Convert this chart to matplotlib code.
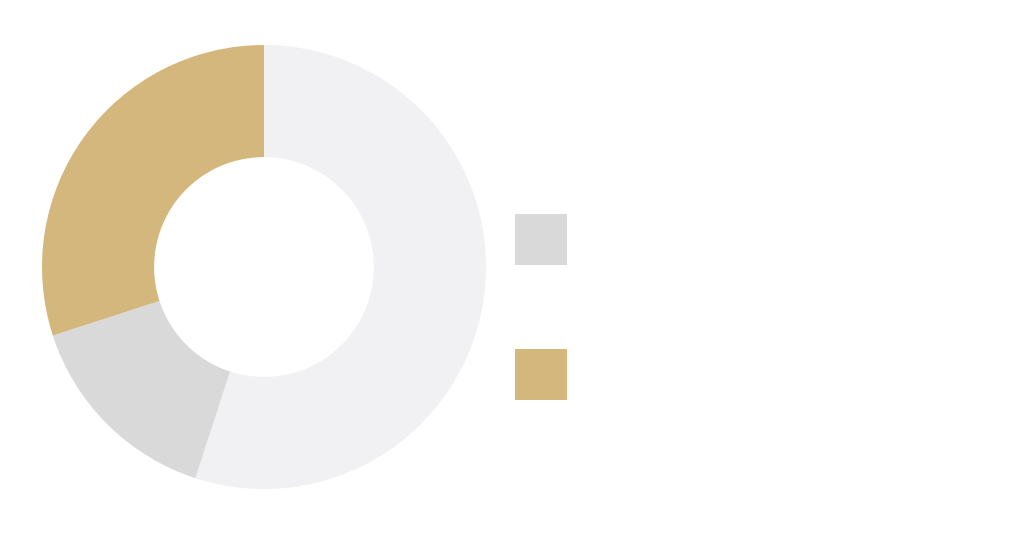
import matplotlib.pyplot as plt
from matplotlib.patches import Patch

# donut shares (clockwise from 12 o'clock)
segments = ["Rest", "Category A", "Category B"]
shares = [55, 15, 30]
colours = ["#f1f1f3", "#d9d9d9", "#d4b77c"]

# only two of the segments appear in the legend
legend_items = ["Category A", "Category B"]


def main():
    fig = plt.figure(figsize=(10.24, 5.35), dpi=100)
    fig.patch.set_facecolor("white")

    ax = fig.add_axes([42 / 1024, 46 / 535, 444 / 1024, 444 / 535])
    ax.pie(shares, colors=colours, startangle=90, counterclock=False,
           radius=1.0, wedgeprops=dict(width=0.505, linewidth=0))
    ax.set_xlim(-1, 1)
    ax.set_ylim(-1, 1)
    ax.set_aspect("equal")
    ax.axis("off")

    handles = [Patch(facecolor=colours[segments.index(n)], edgecolor="none")
               for n in legend_items]
    fig.legend(handles, legend_items, loc="upper left",
               bbox_to_anchor=(515 / 1024, 1 - 214 / 535),
               frameon=False, fontsize=14, labelcolor="white",
               handlelength=2.67, handleheight=3.65, handletextpad=1.0,
               labelspacing=4.32, borderpad=0, borderaxespad=0)

    fig.savefig("out.png", dpi=100)


main()
